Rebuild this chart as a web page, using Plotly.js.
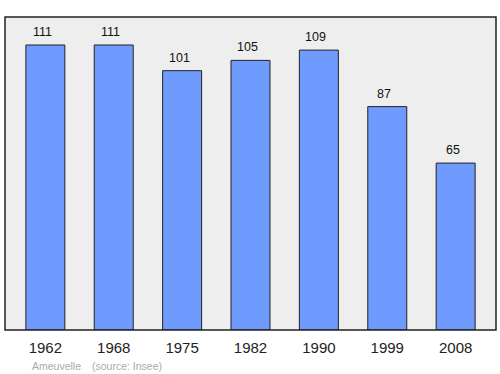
<!DOCTYPE html>
<html>
<head>
<meta charset="utf-8">
<script src="https://cdn.plot.ly/plotly-3.0.1.min.js"></script>
<style>html,body{margin:0;padding:0;background:#fff;}#chart{width:500px;height:374px;}</style>
</head>
<body>
<div id="chart"></div>
<script>
const years = ["1962", "1968", "1975", "1982", "1990", "1999", "2008"];
const population = [111, 111, 101, 105, 109, 87, 65];
const place = "Ameuvelle";
const source = "(source: Insee)";

const annotations = years.map((y, i) => ({
  x: i, y: population[i], xref: 'x', yref: 'y',
  text: String(population[i]), showarrow: false,
  yanchor: 'bottom', yshift: 4, xshift: -3,
  font: {family: 'Liberation Sans, Arial, sans-serif', size: 12.5, color: '#111'}
}));
annotations.push({
  xref: 'paper', yref: 'paper', x: 25/491, y: -36/313, xanchor: 'left', yanchor: 'middle',
  text: place, showarrow: false,
  font: {family: 'Liberation Sans, Arial, sans-serif', size: 10.5, color: '#aaaaaa'}
});
annotations.push({
  xref: 'paper', yref: 'paper', x: 85/491, y: -36/313, xanchor: 'left', yanchor: 'middle',
  text: source, showarrow: false,
  font: {family: 'Liberation Sans, Arial, sans-serif', size: 10.5, color: '#aaaaaa'}
});

Plotly.newPlot('chart', [{
  type: 'bar', x: years, y: population,
  width: 0.57,
  marker: {color: 'rgb(111,155,255)', line: {color: '#222', width: 1}},
  hoverinfo: 'none'
}], {
  width: 500, height: 374,
  margin: {l: 5, r: 4, t: 17, b: 44},
  paper_bgcolor: '#ffffff', plot_bgcolor: '#eeeeee',
  showlegend: false,
  xaxis: {type: 'category', range: [-0.59, 6.59], showgrid: false, zeroline: false,
    showline: false, ticks: '', ticklabelstandoff: 7,
    tickfont: {family: 'Liberation Sans, Arial, sans-serif', size: 15, color: '#222'}},
  yaxis: {range: [0, 121.9], showgrid: false, zeroline: false, showticklabels: false, ticks: ''},
  shapes: [{type: 'rect', xref: 'paper', yref: 'paper', x0: 0, x1: 1, y0: 0, y1: 1,
    line: {color: '#222', width: 1.5}, layer: 'above'}],
  annotations: annotations
}, {staticPlot: true});
</script>
</body>
</html>
